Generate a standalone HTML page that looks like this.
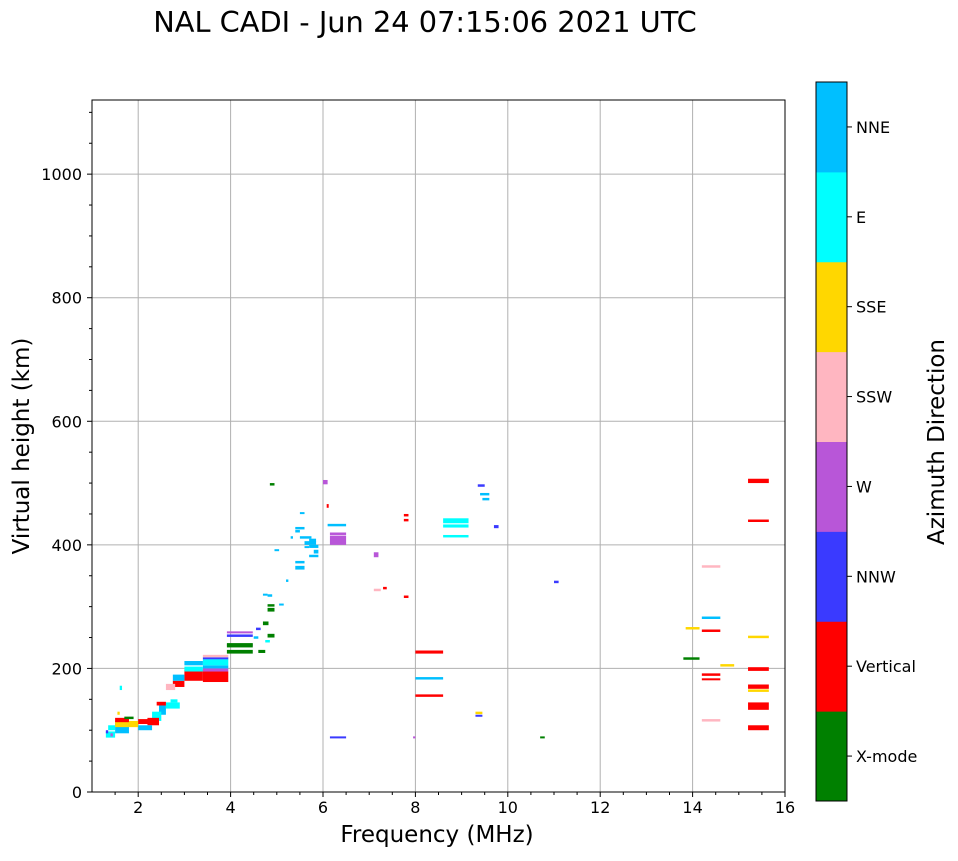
<!DOCTYPE html>
<html><head><meta charset="utf-8"><style>
body{margin:0;background:#fff;font-family:"DejaVu Sans",sans-serif}
svg text{font-family:"DejaVu Sans",sans-serif}
</style></head><body>
<svg id="chart" width="958" height="857" xmlns="http://www.w3.org/2000/svg">
<text x="425" y="32" font-size="28.8" text-anchor="middle">NAL CADI - Jun 24 07:15:06 2021 UTC</text>
<g id="grid"></g>
<g id="marks"></g>
<rect x="92" y="100" width="693" height="692" fill="none" stroke="#000" stroke-width="1"/>
<g id="axes"></g>
<text x="437" y="842" font-size="23" text-anchor="middle">Frequency (MHz)</text>
<text transform="translate(29,446) rotate(-90)" font-size="23" text-anchor="middle">Virtual height (km)</text>
<g id="cbar"></g>
<text transform="translate(944,442) rotate(-90)" font-size="23" text-anchor="middle">Azimuth Direction</text>
</svg>
<script>
const xTicks=[2,4,6,8,10,12,14,16];
const yTicks=[0,200,400,600,800,1000];
const dirLabels=["X-mode","Vertical","NNW","W","SSW","SSE","E","NNE"];
const dirColors=["#008000","#ff0000","#3a3aff","#b856d8","#ffb6c1","#ffd700","#00ffff","#00bfff"];
// marks: [freqStart, freqEnd, heightLow, heightHigh, directionIndex]
const markF0=[3.4,3.4,3.4,3.4,3.4,3.4,3.0,3.0,3.0,2.75,2.75,2.6,2.6,2.45,2.3,2.2,1.5,1.5,1.5,1.3,1.8,2.0,2.0,1.6,1.3,1.55,1.4,3.92,3.92,3.92,3.92,3.92,4.5,4.55,4.8,4.8,4.8,4.7,4.6,4.8,4.75,5.2,5.4,5.7,5.7,5.4,5.5,5.6,5.8,5.3,5.4,5.6,4.85,6.0,6.15,6.15,6.1,6.08,7.1,7.1,7.3,7.75,7.75,7.75,8.0,8.0,8.0,8.6,8.6,8.6,9.4,9.45,9.35,9.7,6.15,7.95,9.3,9.3,10.7,11.0,13.85,13.8,14.2,14.2,14.2,14.2,14.2,14.2,14.6,15.2,15.2,15.2,15.2,15.2,15.2,15.2,15.2,5.4,5.7,5.5,4.95,5.05,4.7,2.4,2.7,1.35,1.7];
const markF1=[3.95,3.95,3.95,3.95,3.95,3.95,3.4,3.4,3.4,3.0,3.0,2.8,2.9,2.6,2.5,2.45,1.8,1.8,1.8,1.5,2.0,2.3,2.3,1.65,1.35,1.6,1.45,4.48,4.48,4.48,4.48,4.48,4.6,4.65,4.95,4.95,4.95,4.82,4.75,4.9,4.85,5.25,5.6,5.9,5.9,5.6,5.75,5.85,5.9,5.35,5.5,5.7,4.95,6.1,6.5,6.5,6.5,6.12,7.2,7.25,7.38,7.85,7.85,7.85,8.6,8.6,8.6,9.15,9.15,9.15,9.6,9.6,9.5,9.8,6.5,8.0,9.45,9.45,10.8,11.1,14.15,14.15,14.6,14.6,14.6,14.6,14.6,14.6,14.9,15.65,15.65,15.65,15.65,15.65,15.65,15.65,15.65,5.6,5.85,5.6,5.05,5.15,4.8,2.6,2.85,1.5,1.9];
const markH0=[178,195,200,205,215,218,180,195,205,170,180,165,135,125,115,108,95,105,113,88,105,100,110,165,95,125,90,257,251,236,234,224,248,262,292,300,250,270,225,316,242,340,360,380,395,425,410,400,386,410,420,395,496,498,400,416,430,460,380,325,328,446,438,314,224,182,154,435,428,412,480,472,494,427,87,87,126,122,87,338,263,214,363,280,259,188,181,114,203,500,437,249,196,167,162,133,100,370,405,450,390,302,318,140,145,100,118];
const markH1=[195,200,205,215,218,222,198,203,212,180,190,175,145,140,130,120,112,115,120,98,115,108,118,172,100,130,95,260,255,240,241,230,252,266,298,304,256,276,230,320,246,344,366,384,400,429,414,406,392,414,424,398,500,505,415,420,434,466,388,329,332,450,442,318,229,186,158,443,433,416,484,476,498,432,90,90,130,125,90,342,267,218,367,284,263,192,184,118,207,507,441,253,202,174,166,145,108,374,410,453,393,305,321,146,150,108,122];
const markC=[1,3,7,6,2,4,1,6,7,1,7,4,6,7,6,1,7,5,1,6,5,7,1,6,2,5,3,3,2,3,0,0,7,2,0,0,0,0,0,7,6,7,7,7,7,7,7,7,7,7,7,7,0,3,3,3,7,1,3,4,1,1,1,1,1,7,1,6,6,6,7,7,2,2,2,3,5,2,0,2,5,0,4,7,1,1,1,4,5,1,1,5,1,1,5,1,1,7,7,7,7,7,7,1,6,6,0];
const X0=92,X1=785,Y0=792,Y1=100,fMin=1,fMax=16,hMin=0,hMax=1120;
const xs=f=>X0+(f-fMin)/(fMax-fMin)*(X1-X0);
const ys=h=>Y0-(h-hMin)/(hMax-hMin)*(Y0-Y1);
const NS="http://www.w3.org/2000/svg";
function mk(tag,parent,attrs){const e=document.createElementNS(NS,tag);for(const k in attrs)e.setAttribute(k,attrs[k]);parent.appendChild(e);return e;}
const grid=document.getElementById('grid'),axes=document.getElementById('axes'),marks=document.getElementById('marks'),cbar=document.getElementById('cbar');
xTicks.forEach(t=>{const x=xs(t);
 if(t<fMax){const g=mk('line',grid,{x1:x,x2:x,y1:Y1,y2:Y0,stroke:'#b0b0b0','stroke-width':1});}
 const l=mk('line',axes,{x1:x,x2:x,y1:Y0,y2:Y0+5,stroke:'#000'});
 const tx=mk('text',axes,{x:x,y:Y0+21,'font-size':16,'text-anchor':'middle'});tx.textContent=t;});
for(let m=1.5;m<16;m+=0.5){if(m%2===0)continue;const l=mk('line',axes,{x1:xs(m),x2:xs(m),y1:Y0,y2:Y0+3,stroke:'#000'});}
yTicks.forEach(t=>{const y=ys(t);
 if(t>0){const g=mk('line',grid,{x1:X0,x2:X1,y1:y,y2:y,stroke:'#b0b0b0','stroke-width':1});}
 const l=mk('line',axes,{x1:X0-5,x2:X0,y1:y,y2:y,stroke:'#000'});
 const tx=mk('text',axes,{x:X0-10,y:y+6,'font-size':16,'text-anchor':'end'});tx.textContent=t;});
for(let m=50;m<1120;m+=50){if(m%200===0)continue;const l=mk('line',axes,{x1:X0-3,x2:X0,y1:ys(m),y2:ys(m),stroke:'#000'});}
for(let i=0;i<markC.length;i++){const x0=xs(markF0[i]),x1=xs(markF1[i]),y0=ys(markH1[i]),y1=ys(markH0[i]);
 const r=mk('rect',marks,{x:x0,y:y0,width:Math.max(2,x1-x0),height:Math.max(2,y1-y0),fill:dirColors[markC[i]]});
 
 }
const CX=816,CW=31,CT=82,CB=801,seg=(CB-CT)/dirLabels.length;
dirLabels.forEach((lab,i)=>{const y=CB-(i+1)*seg;
 const r=mk('rect',cbar,{x:CX,y:y,width:CW,height:seg+0.5,fill:dirColors[i]});
 const l=mk('line',cbar,{x1:CX+CW,x2:CX+CW+5,y1:y+seg/2,y2:y+seg/2,stroke:'#000'});
 const t=mk('text',cbar,{x:CX+CW+9,y:y+seg/2+6,'font-size':16});t.textContent=lab;});
const fr=mk('rect',cbar,{x:CX,y:CT,width:CW,height:CB-CT,fill:'none',stroke:'#000'});
</script>
</body></html>
